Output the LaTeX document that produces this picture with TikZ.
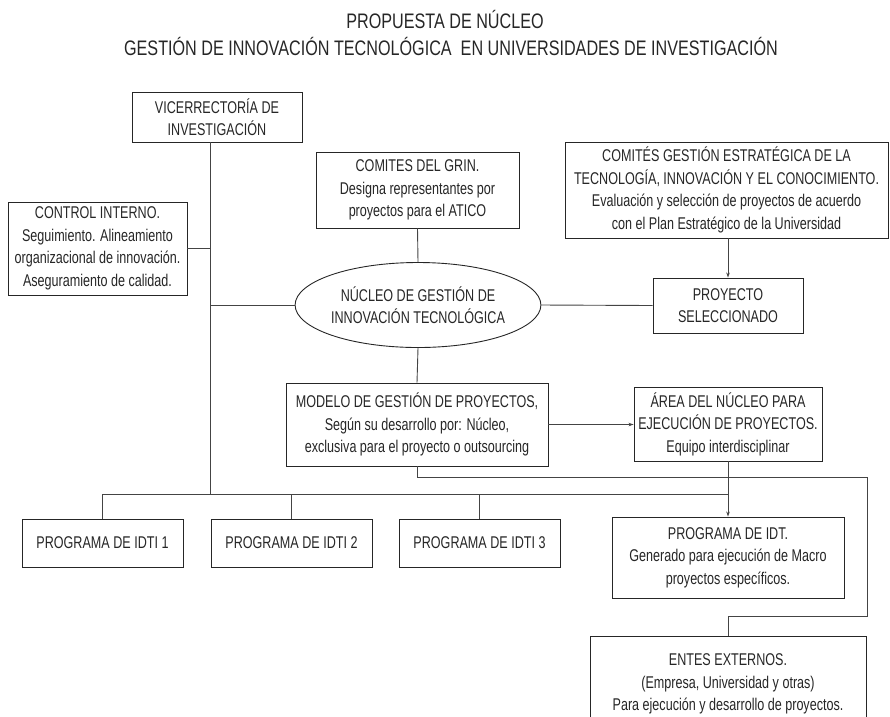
\documentclass[tikz,border=0pt]{standalone}
\usepackage{fontspec}
\setmainfont{Liberation Sans}[FakeStretch=0.74]
\newfontfamily\titlefont{Liberation Sans}[FakeStretch=0.77]
\usetikzlibrary{shapes.geometric,arrows.meta,calc}
\definecolor{ink}{HTML}{262626}
\definecolor{linec}{HTML}{444444}
\tikzset{
  box/.style={draw=ink, line width=0.9pt, inner sep=1pt, align=center, text=ink,
    font=\fontsize{17}{22.5}\selectfont},
  conn/.style={draw=linec, line width=0.9pt},
  arr/.style={conn, -{Stealth[length=5pt,width=3.5pt]}},
  ttl/.style={text=ink, font=\titlefont\fontsize{21}{26}\selectfont, inner sep=0pt},
}
\begin{document}
\begin{tikzpicture}[x=1pt,y=-1pt]
\useasboundingbox (0,0) rectangle (890,716);
\clip (0,0) rectangle (890,716);
% title
\node[ttl] (t1) at (445,19) {PROPUESTA DE NÚCLEO};
\node[ttl] (t2) at (451,46) {GESTIÓN DE INNOVACIÓN TECNOLÓGICA\ \ EN UNIVERSIDADES DE INVESTIGACIÓN};
% boxes
\node[box, minimum width=170pt, minimum height=50pt] (vic) at (217,117) {VICERRECTORÍA DE\\INVESTIGACIÓN};
\node[box, minimum width=179pt, minimum height=93pt] (ctrl) at (97.5,248.5) {CONTROL INTERNO.\\Seguimiento. Alineamiento\\organizacional de innovación.\\Aseguramiento de calidad.};
\node[box, minimum width=203pt, minimum height=76pt] (grin) at (417.5,190) {COMITES DEL GRIN.\\Designa representantes por\\proyectos para el ATICO};
\node[box, minimum width=323pt, minimum height=96pt] (cges) at (726.5,190) {COMITÉS GESTIÓN ESTRATÉGICA DE LA\\TECNOLOGÍA, INNOVACIÓN Y EL CONOCIMIENTO.\\Evaluación y selección de proyectos de acuerdo\\con el Plan Estratégico de la Universidad};
\node[box, ellipse, minimum width=219pt, minimum height=85pt, inner sep=0pt] (nuc) at (418,305) {NÚCLEO DE GESTIÓN DE\\INNOVACIÓN TECNOLÓGICA};
\node[box, minimum width=150pt, minimum height=55pt] (proy) at (728,305.5) {PROYECTO\\SELECCIONADO};
\node[box, minimum width=262pt, minimum height=83pt] (modelo) at (417,424.5) {MODELO DE GESTIÓN DE PROYECTOS,\\Según su desarrollo por: Núcleo,\\exclusiva para el proyecto o outsourcing};
\node[box, minimum width=188pt, minimum height=74pt] (area) at (728,424) {ÁREA DEL NÚCLEO PARA\\EJECUCIÓN DE PROYECTOS.\\Equipo interdisciplinar};
\node[box, minimum width=161pt, minimum height=48pt] (p1) at (102.5,543) {PROGRAMA DE IDTI 1};
\node[box, minimum width=161pt, minimum height=48pt] (p2) at (291.5,543) {PROGRAMA DE IDTI 2};
\node[box, minimum width=161pt, minimum height=48pt] (p3) at (479.5,543) {PROGRAMA DE IDTI 3};
\node[box, minimum width=232pt, minimum height=81pt] (pidt) at (728,557.5) {PROGRAMA DE IDT.\\Generado para ejecución de Macro\\proyectos específicos.};
\node[box, minimum width=276pt, minimum height=96pt] (entes) at (728,684) {ENTES EXTERNOS.\\(Empresa, Universidad y otras)\\Para ejecución y desarrollo de proyectos.};
% coordinates
\coordinate (tBot) at (210,494);
\coordinate (rr) at (867,477);
\coordinate (rd) at (867,616);
% connectors
\draw[conn] (vic.south -| tBot) -- (tBot);
\draw[conn] (ctrl.east) -- (ctrl.east -| tBot);
\draw[conn] (nuc.west -| tBot) -- (nuc.west);
\draw[conn] (grin.south) -- (nuc.north);
\draw[conn] (nuc.east) -- (proy.west);
\draw[arr] (proy.north |- cges.south) -- (proy.north);
\draw[conn] (nuc.south) -- (modelo.north);
\draw[arr] (modelo.east) -- (modelo.east -| area.west);
\draw[conn] (p1.north) -- (p1.north |- tBot) -- (pidt.north |- tBot);
\draw[conn] (p2.north) -- (p2.north |- tBot);
\draw[conn] (p3.north) -- (p3.north |- tBot);
\draw[arr] (area.south) -- (pidt.north);
\draw[conn] (modelo.south) -- (modelo.south |- rr) -- (rr) -- (rd) -- (rd -| entes.north) -- (entes.north);
\end{tikzpicture}
\end{document}
